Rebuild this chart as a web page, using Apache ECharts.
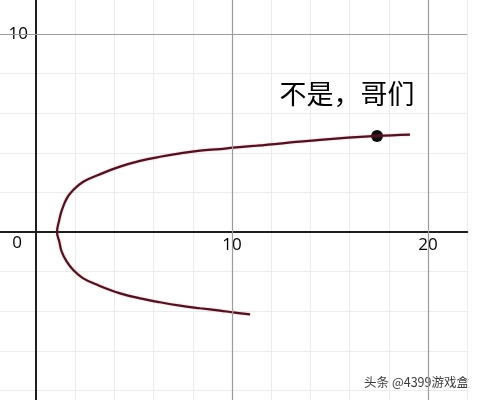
<!DOCTYPE html>
<html>
<head>
<meta charset="utf-8">
<script src="https://cdn.jsdelivr.net/npm/echarts@6/dist/echarts.min.js"></script>
<style>html,body{margin:0;padding:0;background:#fff;}#c{width:482px;height:400px;}</style>
</head>
<body>
<div id="c"></div>
<script>
// curve samples, ordered along the path: lower end -> vertex -> upper end
const curveX = [10.92, 10.07, 9.39, 8.37, 7.35, 6.33, 5.31, 4.29, 3.2, 2.41, 1.90, 1.57, 1.31, 1.19, 1.07, 1.19, 1.31, 1.57, 1.90, 2.41, 3.2, 4.29, 5.31, 6.33, 7.35, 8.37, 9.39, 10.07, 11.26, 14.5, 17.4, 19.08];
const curveY = [-4.16, -4.06, -3.97, -3.85, -3.72, -3.55, -3.35, -3.10, -2.70, -2.34, -1.92, -1.50, -0.99, -0.49, 0, 0.62, 1.08, 1.70, 2.12, 2.54, 2.89, 3.30, 3.59, 3.80, 3.97, 4.11, 4.19, 4.26, 4.36, 4.65, 4.85, 4.92];
const pointX = [17.4];
const pointY = [4.85];
const pointLabel = '不是，哥们';
const xTickLabels = [10, 20];
const yTickLabels = [10];
const originLabel = '0';
const majorX = [10, 20];
const majorY = [10];
const watermark = '头条 @4399游戏盒';

const chart = echarts.init(document.getElementById('c'), null, {renderer: 'canvas'});
const curve = curveX.map((x, i) => [x, curveY[i]]);
const pts = pointX.map((x, i) => [x, pointY[i]]);
const majorLines = majorX.map(v => ({xAxis: v})).concat(majorY.map(v => ({yAxis: v})));
const labelFont = {color: '#000', fontSize: 17, fontFamily: 'Open Sans, DejaVu Sans, sans-serif', opacity: 1};

chart.setOption({
  animation: false,
  backgroundColor: '#ffffff',
  grid: {left: -3.2, top: -5.6, width: 470.4, height: 435.6, containLabel: false, outerBoundsMode: 'none'},
  xAxis: {
    type: 'value', min: -2, max: 22, interval: 2,
    axisLine: {onZero: true, lineStyle: {color: '#1e1e1e', width: 2}},
    axisTick: {show: false},
    splitLine: {show: true, lineStyle: {color: '#ececec', width: 1}},
    axisLabel: {show: false}
  },
  yAxis: {
    type: 'value', min: -10, max: 12, interval: 2,
    axisLine: {onZero: true, lineStyle: {color: '#1e1e1e', width: 2}},
    axisTick: {show: false},
    splitLine: {show: true, lineStyle: {color: '#ececec', width: 1}},
    axisLabel: {show: false}
  },
  series: [
    {
      type: 'line', data: [], silent: true,
      markLine: {
        silent: true, symbol: 'none', label: {show: false},
        lineStyle: {color: '#9c9c9c', width: 1.2, type: 'solid'},
        data: majorLines
      }
    },
    {
      type: 'scatter', silent: true, symbolSize: 0,
      data: xTickLabels.map(v => [v, 0]),
      label: Object.assign({show: true, position: 'bottom', distance: 5, formatter: p => String(p.value[0])}, labelFont)
    },
    {
      type: 'scatter', silent: true, symbolSize: 0,
      data: yTickLabels.map(v => [0, v]),
      label: Object.assign({show: true, position: 'left', distance: 8, formatter: p => String(p.value[1])}, labelFont)
    },
    {
      type: 'scatter', silent: true, symbolSize: 0,
      data: [[0, 0]],
      label: Object.assign({show: true, position: 'bottom', distance: 3, offset: [-19, 0], formatter: originLabel}, labelFont)
    },
    {
      type: 'line', data: curve, smooth: 0.4, showSymbol: false, silent: true,
      lineStyle: {color: '#4a1422', width: 2.2, shadowColor: 'rgba(230,70,90,0.45)', shadowBlur: 2}
    },
    {
      type: 'scatter', data: pts, symbolSize: 12, silent: true,
      itemStyle: {color: '#0c0c0c', opacity: 1},
      label: {
        show: true, position: 'top', distance: 5, offset: [-30, -18],
        formatter: pointLabel, color: '#000', fontSize: 27, opacity: 1,
        fontFamily: 'Noto Sans CJK SC, sans-serif'
      }
    }
  ],
  graphic: [{
    type: 'text', right: 12, bottom: 10,
    style: {text: watermark, fill: '#3c3c3c', fontSize: 12.5, fontFamily: 'Noto Sans CJK SC, sans-serif',
            stroke: '#ffffff', lineWidth: 2}
  }]
});
</script>
</body>
</html>
